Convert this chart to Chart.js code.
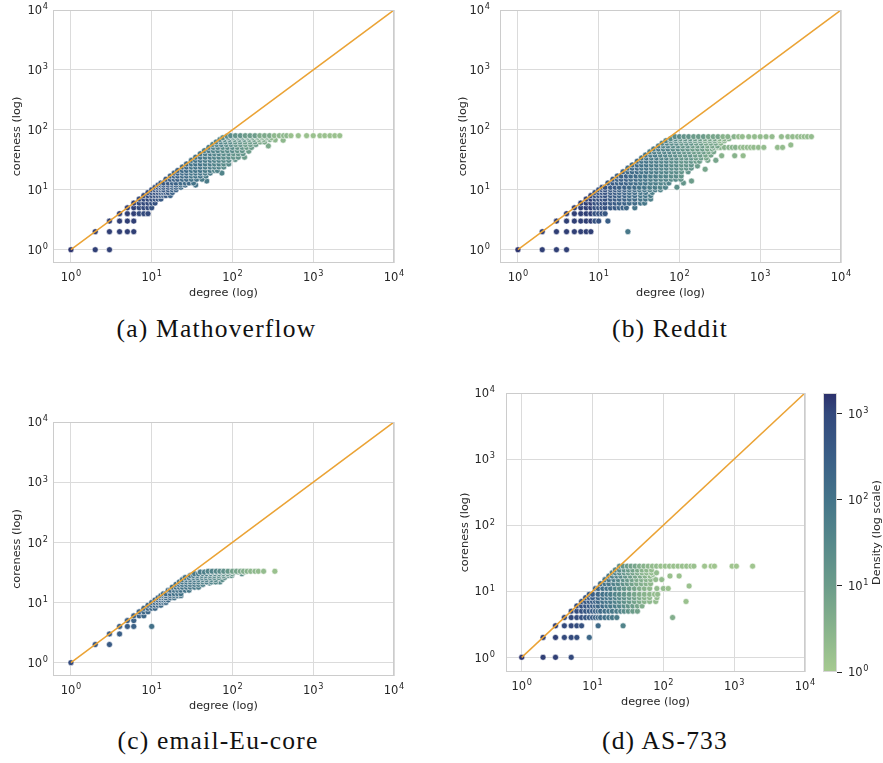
<!DOCTYPE html>
<html><head><meta charset="utf-8">
<script src="https://cdn.jsdelivr.net/npm/chart.js@4.4.1/dist/chart.umd.min.js"></script>
<style>
html,body{margin:0;padding:0;background:#fff;}
body{width:883px;height:763px;position:relative;overflow:hidden;}
canvas{position:absolute;}
.cap{position:absolute;font-family:"Liberation Serif",serif;font-size:25.5px;line-height:25.5px;letter-spacing:1.2px;color:#111;text-align:center;white-space:nowrap;}
</style></head><body>
<canvas id="pa" width="410" height="305" style="left:0;top:0"></canvas>
<canvas id="pb" width="417" height="305" style="left:440px;top:0"></canvas>
<canvas id="pc" width="410" height="306" style="left:0;top:412px"></canvas>
<canvas id="pd" width="381" height="331" style="left:440px;top:383px"></canvas>
<canvas id="cb" width="68" height="300" style="left:815px;top:383px"></canvas>
<div class="cap" id="cap0" style="left:0;width:433px;top:316px"></div>
<div class="cap" id="cap1" style="left:470px;width:400px;top:316px"></div>
<div class="cap" id="cap2" style="left:0;width:436px;top:728px"></div>
<div class="cap" id="cap3" style="left:465px;width:400px;top:728px"></div>
<script>
// ---- data: [degree, coreness, log10(density)] ----
const mathoverflowPts = [
[1,1,3.2],[2,1,3.1],[3,1,3.1],
[2,2,3.1],[3,2,3.1],[4,2,3.1],[5,2,3.1],[6,2,3.1],
[3,3,3.1],[4,3,3.1],[5,3,3.1],[6,3,3.1],
[4,4,3.1],[5,4,3.1],[6,4,3.1],[7,4,3.0],[8,4,3.0],[9,4,3.0],
[5,5,3.1],[6,5,3.1],[7,5,3.0],[8,5,3.0],[9,5,3.0],[10,5,2.8],
[6,6,3.1],[7,6,3.0],[8,6,3.0],[9,6,3.0],[10,6,2.8],[11,6,2.8],
[7,7,3.0],[8,7,3.0],[9,7,3.0],[10,7,2.8],[11,7,2.8],[12,7,2.8],[13,7,2.6],
[8,8,3.0],[9,8,3.0],[10,8,2.8],[11,8,2.8],[12,8,2.8],[13,8,2.6],[14,8,2.6],[15,8,2.6],[17,8,2.4],
[9,9,3.0],[10,9,2.8],[11,9,2.8],[12,9,2.8],[13,9,2.6],[14,9,2.6],[15,9,2.6],[16,9,2.6],[18,9,2.4],
[10,10,2.8],[11,10,2.8],[12,10,2.8],[13,10,2.6],[14,10,2.6],[16,10,2.6],[18,10,2.4],[20,10,2.4],
[11,11,2.8],[12,11,2.8],[13,11,2.6],[14,11,2.6],[16,11,2.6],[18,11,2.4],[20,11,2.4],[23,11,2.2],
[12,12,2.8],[13,12,2.6],[14,12,2.6],[16,12,2.6],[18,12,2.4],[20,12,2.4],[23,12,2.2],[26,12,2.2],[35,12,2.0],
[13,13,2.6],[14,13,2.6],[16,13,2.6],[18,13,2.4],[20,13,2.4],[23,13,2.2],[26,13,2.2],[29,13,2.2],[33,13,2.0],[48,14,1.8],
[15,15,2.6],[17,15,2.4],[19,15,2.4],[21,15,2.4],[24,15,2.2],[27,15,2.2],[31,15,2.0],[36,15,2.0],[42,15,1.8],
[17,17,2.4],[19,17,2.4],[21,17,2.4],[24,17,2.2],[27,17,2.2],[31,17,2.0],[35,17,2.0],[40,17,2.0],[47,17,1.8],
[19,19,2.4],[21,19,2.4],[24,19,2.2],[27,19,2.2],[31,19,2.0],[35,19,2.0],[40,19,2.0],[46,19,1.8],[53,19,1.8],[74,19,1.6],
[21,21,2.4],[24,21,2.2],[27,21,2.2],[31,21,2.0],[35,21,2.0],[40,21,2.0],[46,21,1.8],[53,21,1.8],[60,21,1.6],[65,21,1.6],
[24,24,2.2],[27,24,2.2],[31,24,2.0],[35,24,2.0],[40,24,2.0],[46,24,1.8],[53,24,1.8],[60,24,1.6],[68,24,1.6],[78,24,1.4],
[27,27,2.2],[31,27,2.0],[35,27,2.0],[40,27,2.0],[46,27,1.8],[53,27,1.8],[60,27,1.6],[68,27,1.6],[78,27,1.4],[90,27,1.4],
[31,31,2.0],[35,31,2.0],[40,31,2.0],[46,31,1.8],[53,31,1.8],[60,31,1.6],[68,31,1.6],[78,31,1.4],[90,31,1.4],[108,32,1.2],
[35,35,2.0],[40,35,2.0],[46,35,1.8],[53,35,1.8],[60,35,1.6],[68,35,1.6],[78,35,1.4],[90,35,1.4],[103,35,1.2],[118,35,1.2],[141,35,1.0],
[40,40,2.0],[46,40,1.8],[53,40,1.8],[60,40,1.6],[68,40,1.6],[78,40,1.4],[90,40,1.4],[103,40,1.2],[118,40,1.2],[135,40,1.2],
[45,45,1.8],[51,45,1.8],[58,45,1.6],[66,45,1.6],[76,45,1.4],[87,45,1.4],[100,45,1.4],[115,45,1.2],[132,45,1.2],[159,44,1.0],
[51,51,1.8],[58,51,1.6],[66,51,1.6],[76,51,1.4],[87,51,1.4],[100,51,1.4],[115,51,1.2],[132,51,1.2],[150,51,1.0],[172,51,1.0],
[57,57,1.6],[64,57,1.6],[73,57,1.6],[84,57,1.4],[96,57,1.4],[110,57,1.2],[126,57,1.2],[145,57,1.0],[167,57,1.0],[195,57,1.0],[278,54,0.7],
[63,63,1.6],[72,63,1.6],[82,63,1.4],[94,63,1.4],[108,63,1.2],[124,63,1.2],[143,63,1.0],[165,63,1.0],[190,63,1.0],[220,63,0.7],[250,63,0.7],
[70,69,1.6],[80,69,1.4],[92,69,1.4],[106,69,1.2],[122,69,1.2],[140,69,1.2],[161,69,1.0],[185,69,1.0],[213,69,0.7],[245,69,0.7],[290,69,0.7],[338,68,0.4],[424,67,0.4],
[76,74,1.4],[88,74,1.4],[101,74,1.2],[116,74,1.2],[133,74,1.2],[153,74,1.0],[176,74,1.0],[202,74,0.7],[232,74,0.7],[266,74,0.7],[305,74,0.4],
[86,78,1.4],[99,78,1.4],[114,78,1.2],[131,78,1.2],[150,78,1.0],[172,78,1.0],[198,78,1.0],[228,78,0.7],[262,78,0.7],
[95,80,1.4],[109,80,1.2],[125,80,1.2],[144,80,1.0],[165,80,1.0],[190,80,1.0],[218,80,0.7],[250,80,0.7],[288,80,0.7],[330,80,0.4],[380,80,0.4],[430,80,0.4],[470,80,0.4],[530,80,0.2],[653,80,0.2],[828,80,0.2],[1000,80,0.2],[1210,80,0.2],[1390,80,0.2],[1610,80,0.2],[1850,80,0.2],[2130,80,0.2]
];
const redditPts = [
[1,1,3.2],[2,1,3.1],[3,1,3.1],[4,1,3.1],
[2,2,3.1],[3,2,3.1],[4,2,3.1],[5,2,3.1],[6,2,3.1],[7,2,3.1],[8,2,3.1],[23,2,1.9],
[3,3,3.1],[4,3,3.1],[5,3,3.1],[6,3,3.1],[7,3,3.1],[8,3,3.1],[9,3,2.8],[10,3,2.8],[13,3,2.5],
[4,4,3.1],[5,4,3.1],[6,4,3.1],[7,4,3.1],[8,4,3.1],[9,4,2.8],[10,4,2.8],[11,4,2.8],[12,4,2.7],
[5,5,3.1],[6,5,3.1],[7,5,3.1],[8,5,3.1],[9,5,2.8],[10,5,2.8],[11,5,2.8],[12,5,2.8],[14,5,2.6],[16,5,2.6],[18,5,2.4],[20,5,2.4],[22,5,2.3],[28,5,2.0],
[6,6,3.1],[7,6,3.1],[8,6,3.1],[9,6,2.8],[10,6,2.8],[11,6,2.8],[12,6,2.8],[14,6,2.6],[16,6,2.6],[18,6,2.4],[21,6,2.4],[24,6,2.2],[28,6,2.2],[33,6,2.0],[37,6,1.9],
[7,7,3.1],[8,7,3.1],[9,7,2.8],[10,7,2.8],[11,7,2.8],[12,7,2.8],[14,7,2.6],[16,7,2.6],[18,7,2.4],[21,7,2.4],[24,7,2.2],[28,7,2.2],[33,7,2.0],[38,7,2.0],[44,7,1.7],
[8,8,3.1],[9,8,2.8],[10,8,2.8],[11,8,2.8],[12,8,2.8],[14,8,2.6],[16,8,2.6],[18,8,2.4],[21,8,2.4],[24,8,2.2],[28,8,2.2],[33,8,2.0],[38,8,2.0],[44,8,1.8],
[9,9,2.8],[10,9,2.8],[11,9,2.8],[12,9,2.8],[14,9,2.6],[16,9,2.6],[18,9,2.4],[21,9,2.4],[24,9,2.2],[28,9,2.2],[33,9,2.0],[38,9,2.0],[46,9,1.7],
[10,10,2.8],[11,10,2.8],[12,10,2.8],[14,10,2.6],[16,10,2.6],[18,10,2.4],[21,10,2.4],[24,10,2.2],[28,10,2.2],[32,10,2.0],[37,10,2.0],[43,10,1.8],[50,10,1.8],[58,10,1.6],
[11,11,2.8],[12,11,2.8],[14,11,2.6],[16,11,2.6],[18,11,2.4],[21,11,2.4],[24,11,2.2],[28,11,2.2],[32,11,2.0],[37,11,2.0],[43,11,1.8],[50,11,1.8],[58,11,1.6],[67,11,1.6],[93,11,1.3],
[13,13,2.6],[15,13,2.6],[17,13,2.4],[19,13,2.4],[22,13,2.4],[25,13,2.2],[29,13,2.2],[33,13,2.0],[38,13,2.0],[44,13,1.8],[51,13,1.8],[59,13,1.6],[68,13,1.6],[74,13,1.6],[112,13,1.2],
[15,15,2.6],[17,15,2.4],[19,15,2.4],[22,15,2.4],[25,15,2.2],[29,15,2.2],[33,15,2.0],[38,15,2.0],[44,15,1.8],[51,15,1.8],[59,15,1.6],[68,15,1.6],[79,15,1.4],[90,15,1.4],[104,15,1.2],[141,14,1.0],
[17,17,2.4],[19,17,2.4],[22,17,2.4],[25,17,2.2],[29,17,2.2],[33,17,2.0],[38,17,2.0],[44,17,1.8],[51,17,1.8],[59,17,1.6],[68,17,1.6],[79,17,1.4],[91,17,1.4],[105,17,1.2],
[20,20,2.4],[23,20,2.2],[26,20,2.2],[30,20,2.2],[34,20,2.0],[39,20,2.0],[45,20,1.8],[52,20,1.8],[60,20,1.6],[69,20,1.6],[80,20,1.4],[92,20,1.4],[106,20,1.2],[128,20,1.2],
[23,23,2.2],[26,23,2.2],[30,23,2.2],[34,23,2.0],[39,23,2.0],[45,23,1.8],[52,23,1.8],[60,23,1.6],[69,23,1.6],[80,23,1.4],[92,23,1.4],[106,23,1.2],[122,23,1.2],[140,23,1.2],[208,22,0.8],
[26,26,2.2],[30,26,2.2],[34,26,2.0],[39,26,2.0],[45,26,1.8],[52,26,1.8],[60,26,1.6],[69,26,1.6],[80,26,1.4],[92,26,1.4],[106,26,1.2],[122,26,1.2],[140,26,1.2],[167,25,1.0],
[30,30,2.2],[34,30,2.0],[39,30,2.0],[45,30,1.8],[52,30,1.8],[60,30,1.6],[69,30,1.6],[80,30,1.4],[92,30,1.4],[106,30,1.2],[122,30,1.2],[140,30,1.2],[160,30,1.0],[177,30,1.0],[224,31,0.8],[282,31,0.8],
[34,34,2.0],[39,34,2.0],[45,34,1.8],[52,34,1.8],[60,34,1.6],[69,34,1.6],[80,34,1.4],[92,34,1.4],[106,34,1.2],[122,34,1.2],[140,34,1.2],[160,34,1.0],[185,34,1.0],[215,34,0.8],
[38,38,2.0],[44,38,1.8],[50,38,1.8],[58,38,1.6],[67,38,1.6],[77,38,1.4],[89,38,1.4],[102,38,1.2],[118,38,1.2],[136,38,1.2],[157,38,1.0],[181,38,1.0],[210,38,0.8],[245,38,0.8],[333,37,0.5],[483,37,0.5],[614,37,0.3],
[43,43,1.8],[49,43,1.8],[56,43,1.6],[65,43,1.6],[75,43,1.6],[86,43,1.4],[99,43,1.4],[114,43,1.2],[131,43,1.2],[151,43,1.0],[174,43,1.0],[200,43,1.0],[230,43,0.8],[265,43,0.8],
[48,48,1.8],[55,48,1.8],[63,48,1.6],[72,48,1.6],[83,48,1.4],[96,48,1.4],[110,48,1.2],[127,48,1.2],[146,48,1.0],[168,48,1.0],[193,48,1.0],[222,48,0.8],[255,48,0.8],
[267,51,0.8],[300,51,0.5],[322,51,0.5],[360,51,0.5],[409,51,0.5],[450,51,0.5],[494,51,0.5],[569,51,0.3],[620,51,0.3],[689,51,0.3],[760,51,0.3],[831,51,0.3],[950,51,0.3],[1108,51,0.3],[1637,51,0.3],[1890,51,0.3],[2390,56,0.3],
[55,54,1.8],[63,54,1.6],[72,54,1.6],[83,54,1.4],[96,54,1.4],[110,54,1.2],[127,54,1.2],[146,54,1.0],[168,54,1.0],[193,54,1.0],[222,54,0.8],[255,54,0.8],[295,54,0.8],
[61,60,1.6],[70,60,1.6],[80,60,1.4],[92,60,1.4],[106,60,1.2],[122,60,1.2],[140,60,1.2],[161,60,1.0],[185,60,1.0],[213,60,0.8],[245,60,0.8],[282,60,0.8],[325,60,0.5],
[68,66,1.6],[78,66,1.4],[90,66,1.4],[103,66,1.2],[118,66,1.2],[136,66,1.2],[156,66,1.0],[180,66,1.0],[207,66,0.8],[238,66,0.8],[274,66,0.8],[315,66,0.5],[360,66,0.5],
[78,71,1.4],[90,71,1.4],[103,71,1.2],[118,71,1.2],[136,71,1.2],[156,71,1.0],[180,71,1.0],[207,71,0.8],[238,71,0.8],[274,71,0.8],[315,71,0.5],[360,71,0.5],[410,71,0.5],
[88,77,1.4],[100,77,1.4],[114,77,1.2],[130,77,1.2],[150,77,1.0],[172,77,1.0],[198,77,1.0],[228,77,0.8],[262,77,0.8],[300,77,0.8],[345,77,0.5],[397,77,0.5],[474,77,0.5],[540,77,0.3],[600,77,0.3],[720,77,0.3],[850,77,0.3],[1000,77,0.3],[1180,77,0.3],[1400,77,0.3],[1830,77,0.3],[2200,77,0.3],[2520,77,0.3],[2900,77,0.3],[3200,77,0.3],[3500,77,0.3],[3850,77,0.3],[4300,77,0.3]
];
const emailPts = [
[1,1,3.0],
[2,2,2.7],[3,2,2.6],
[3,3,2.6],[4,3,2.5],
[4,4,2.5],[5,4,2.5],[6,4,2.4],[10,4,2.1],
[5,5,2.5],[6,5,2.4],
[6,6,2.4],[7,6,2.4],[8,6,2.3],
[7,7,2.4],[8,7,2.3],[9,7,2.3],
[8,8,2.3],[9,8,2.3],[10,8,2.3],[11,8,2.3],
[9,9,2.3],[10,9,2.3],[11,9,2.3],[12,9,2.3],[13,9,2.2],
[10,10,2.3],[11,10,2.3],[12,10,2.3],[13,10,2.3],[14,10,2.2],[15,10,2.2],
[11,11,2.3],[12,11,2.3],[13,11,2.3],[14,11,2.2],[15,11,2.2],[16,11,2.2],
[12,12,2.3],[13,12,2.3],[14,12,2.2],[15,12,2.2],[17,12,2.2],[19,12,2.1],
[13,13,2.2],[14,13,2.2],[15,13,2.2],[17,13,2.2],[19,13,2.1],[21,13,2.1],[23,13,2.0],
[14,14,2.2],[15,14,2.2],[17,14,2.2],[19,14,2.1],[21,14,2.1],[23,14,2.0],
[16,16,2.2],[17,16,2.2],[19,16,2.1],[21,16,2.1],[23,16,2.1],[26,16,2.0],[29,16,1.9],
[18,18,2.1],[20,18,2.1],[22,18,2.1],[24,18,2.0],[27,18,2.0],[30,18,1.9],[34,18,1.9],[38,18,1.8],
[20,20,2.1],[22,20,2.1],[24,20,2.0],[27,20,2.0],[30,20,1.9],[34,20,1.9],[38,20,1.8],[43,20,1.7],
[52,21,1.6],[70,22,1.5],
[22,22,2.1],[24,22,2.0],[27,22,2.0],[30,22,1.9],[34,22,1.9],[38,22,1.8],[43,22,1.7],[48,22,1.7],[55,22,1.6],[62,22,1.5],
[24,24,2.0],[27,24,2.0],[30,24,1.9],[34,24,1.9],[38,24,1.8],[43,24,1.7],[48,24,1.7],[55,24,1.6],[62,24,1.5],[75,24,1.4],
[26,26,2.0],[29,26,1.9],[33,26,1.9],[37,26,1.8],[42,26,1.7],[47,26,1.7],[53,26,1.6],[60,26,1.5],[68,26,1.4],[80,26,1.3],
[30,28,1.9],[33,28,1.9],[37,28,1.8],[42,28,1.7],[47,28,1.7],[53,28,1.6],[60,28,1.5],[68,28,1.4],[78,28,1.3],[90,28,1.3],[98,28,1.2],
[34,30,1.9],[38,30,1.8],[43,30,1.7],[48,30,1.7],[54,30,1.6],[61,30,1.5],[69,30,1.4],[78,30,1.3],[88,30,1.2],[100,30,1.1],[131,30,1.3],
[40,32,1.8],[45,32,1.7],[51,32,1.6],[57,32,1.6],[64,32,1.5],[72,32,1.4],[81,32,1.3],[92,32,1.1],[104,32,1.0],[117,32,0.9],[140,32,0.7],
[50,33,1.6],[56,33,1.6],[63,33,1.5],[70,33,1.4],[78,33,1.3],[88,33,1.1],[100,33,0.9],[112,33,0.8],[125,33,0.7],[137,33,0.6],[152,33,0.5],[168,33,0.4],[190,33,0.4],[209,33,0.3],[243,33,0.3],[335,33,0.2]
];
const as733Pts = [
[1,1,3.2],[2,1,3.1],[3,1,3.1],[5,1,3.0],
[2,2,3.1],[3,2,3.1],[4,2,3.0],[5,2,3.0],[6,2,2.9],[9,2,2.3],
[3,3,3.1],[4,3,3.0],[5,3,3.0],[6,3,2.9],[7,3,2.8],[12,3,2.2],[27,3,1.6],
[4,4,3.0],[5,4,3.0],[6,4,2.9],[7,4,2.8],[8,4,2.7],[9,4,2.6],[10,4,2.5],[11,4,2.4],[12,4,2.3],[13,4,2.2],[15,4,2.1],[17,4,2.0],[19,4,1.9],[22,4,1.8],[135,4,0.6],
[5,5,3.0],[6,5,2.9],[7,5,2.8],[8,5,2.7],[9,5,2.6],[10,5,2.5],[11,5,2.4],[12,5,2.3],[13,5,2.2],[15,5,2.1],[17,5,2.0],[19,5,1.9],[22,5,1.8],[25,5,1.6],[28,5,1.4],[32,5,1.2],[37,5,1.0],[43,5,0.9],
[6,6,2.9],[7,6,2.8],[8,6,2.7],[9,6,2.6],[10,6,2.5],[11,6,2.4],[12,6,2.3],[14,6,2.2],[16,6,2.0],[18,6,1.9],[21,6,1.8],[24,6,1.6],[28,6,1.4],[32,6,1.2],[37,6,1.0],[43,6,0.8],[50,6,0.6],
[7,7,2.8],[8,7,2.7],[9,7,2.6],[10,7,2.5],[11,7,2.4],[12,7,2.3],[14,7,2.1],[16,7,2.0],[18,7,1.9],[21,7,1.7],[24,7,1.5],[28,7,1.3],[33,7,1.1],[39,7,0.9],[46,7,0.7],[54,7,0.5],[64,7,0.4],[78,7,0.3],[209,7,0.2],
[8,8,2.7],[9,8,2.6],[10,8,2.5],[12,8,2.3],[14,8,2.1],[16,8,2.0],[18,8,1.9],[21,8,1.7],[24,8,1.5],[28,8,1.3],[33,8,1.1],[39,8,0.9],[46,8,0.7],[54,8,0.5],[64,8,0.4],[81,8,0.3],
[9,9,2.6],[10,9,2.5],[12,9,2.3],[14,9,2.1],[16,9,2.0],[18,9,1.8],[21,9,1.6],[24,9,1.4],[28,9,1.2],[33,9,1.0],[39,9,0.8],[46,9,0.6],[54,9,0.5],[64,9,0.4],[75,9,0.3],[83,9,0.3],
[11,11,2.4],[12,11,2.3],[14,11,2.1],[16,11,2.0],[18,11,1.8],[21,11,1.6],[24,11,1.4],[28,11,1.2],[33,11,1.0],[39,11,0.8],[46,11,0.6],[54,11,0.5],[64,11,0.4],[81,11,0.3],[100,11,0.3],[117,11,0.2],
[231,12,0.2],
[13,13,2.2],[15,13,2.0],[17,13,1.9],[20,13,1.7],[23,13,1.5],[27,13,1.3],[31,13,1.1],[36,13,0.9],[42,13,0.7],[49,13,0.6],[57,13,0.5],[66,13,0.4],
[15,15,2.0],[17,15,1.9],[20,15,1.7],[23,15,1.5],[27,15,1.3],[31,15,1.1],[36,15,0.9],[42,15,0.7],[49,15,0.6],[57,15,0.5],[66,15,0.4],[78,15,0.3],[95,15,0.3],
[17,17,1.9],[19,17,1.7],[22,17,1.6],[25,17,1.4],[29,17,1.2],[34,17,1.0],[40,17,0.8],[47,17,0.7],[55,17,0.5],[65,17,0.4],[71,18,0.4],[124,17,0.2],[167,17,0.2],
[19,19,1.7],[21,19,1.6],[24,19,1.4],[28,19,1.2],[32,19,1.0],[37,19,0.9],[43,19,0.7],[50,19,0.5],[58,19,0.4],[68,19,0.3],[80,19,0.3],
[21,21,1.6],[24,21,1.4],[28,21,1.2],[32,21,1.0],[37,21,0.9],[43,21,0.7],[50,21,0.5],[58,21,0.4],[68,21,0.3],
[24,24,1.3],[27,24,1.2],[31,24,1.0],[35,24,0.9],[40,24,0.8],[46,24,0.6],[53,24,0.5],[61,24,0.4],[70,24,0.3],[80,24,0.3],[92,24,0.2],[106,24,0.2],[122,24,0.2],[140,24,0.2],[161,24,0.2],[185,24,0.2],[213,24,0.2],[245,24,0.2],[270,24,0.2],[382,24,0.1],[474,24,0.1],[526,24,0.1],[935,24,0.1],[1075,24,0.1],[1820,24,0.1]
];
const diagonal = [1, 10000];
const tickValues = [1, 10, 100, 1000, 10000];
const tickExponents = ['0', '1', '2', '3', '4'];
const cbTickValues = [1, 10, 100, 1000];
const cbTickExponents = ['0', '1', '2', '3'];
const axisMin = 0.631, axisMax = 10000, densityMax = 1738;
const captions = ['(a) Mathoverflow', '(b) Reddit', '(c) email-Eu-core', '(d) AS-733'];
const xTitle = 'degree (log)', yTitle = 'coreness (log)', cbTitle = 'Density (log scale)';

// ---- style ----
const crestStops = [[0,166,202,144],[0.5,136,179,140],[1,108,156,138],[1.5,86,136,138],[2,68,116,137],[2.5,58,94,134],[3,51,73,124],[3.24,44,48,108]];
function crest(k) {
  k = Math.max(0, Math.min(3.24, k));
  for (let i = 1; i < crestStops.length; i++) {
    const a = crestStops[i-1], b = crestStops[i];
    if (k <= b[0]) {
      const t = (k - a[0]) / (b[0] - a[0]);
      const c = [1,2,3].map(j => Math.round(a[j] + (b[j]-a[j]) * t));
      return `rgb(${c[0]},${c[1]},${c[2]})`;
    }
  }
  const l = crestStops[crestStops.length-1];
  return `rgb(${l[1]},${l[2]},${l[3]})`;
}
const FONT = 'DejaVu Sans';
const TXT = '#262626';
const BASE = 11.5, SUP = 8.2, RAISE = 4.8;

// draws "10" with a raised exponent; y is the baseline of "10"
function drawPow(ctx, x, y, exp, align) {
  ctx.font = `${BASE}px "${FONT}"`;
  const w1 = ctx.measureText('10').width;
  ctx.font = `${SUP}px "${FONT}"`;
  const w2 = ctx.measureText(exp).width;
  const total = w1 + 0.6 + w2;
  const x0 = align === 'center' ? x - total / 2 : align === 'right' ? x - total : x;
  ctx.textAlign = 'left'; ctx.textBaseline = 'alphabetic'; ctx.fillStyle = TXT;
  ctx.font = `${BASE}px "${FONT}"`;
  ctx.fillText('10', x0, y);
  ctx.font = `${SUP}px "${FONT}"`;
  ctx.fillText(exp, x0 + w1 + 0.6, y - RAISE);
}

const framePlugin = {
  id: 'frame',
  afterDatasetsDraw(chart) {
    const {ctx, chartArea: a} = chart;
    ctx.save();
    ctx.strokeStyle = '#cccccc'; ctx.lineWidth = 1;
    ctx.strokeRect(Math.round(a.left)+0.5, Math.round(a.top)+0.5, Math.round(a.right-a.left)-1, Math.round(a.bottom-a.top)-1);
    ctx.restore();
  },
  afterDraw(chart, args, opts) {
    const {ctx, chartArea: a, scales: {x, y}} = chart;
    ctx.save();
    tickValues.forEach((v, i) => {
      drawPow(ctx, x.getPixelForValue(v), a.bottom + 17.8, tickExponents[i], 'center');
      drawPow(ctx, a.left - opts.tp, y.getPixelForValue(v) + 4.2, tickExponents[i], 'right');
    });
    ctx.restore();
  }
};

function makePanel(id, pts, g) {
  return new Chart(document.getElementById(id), {
    type: 'scatter',
    data: { datasets: [
      { type: 'line', data: diagonal.map(v => ({x: v, y: v})), borderColor: '#eba335', borderWidth: 1.5, pointRadius: 0, fill: false, order: 0 },
      { type: 'scatter', data: pts.map(p => ({x: p[0], y: p[1]})), pointRadius: 3, pointBorderWidth: 0.6, pointBorderColor: '#ffffff', pointBackgroundColor: pts.map(p => crest(p[2])), order: 1 }
    ]},
    options: {
      responsive: false, animation: false, events: [],
      layout: { padding: { left: 0, top: 10, right: 16, bottom: 0 } },
      plugins: { legend: { display: false }, tooltip: { enabled: false }, frame: { tp: g.tp } },
      scales: {
        x: {
          type: 'logarithmic', min: axisMin, max: axisMax,
          afterBuildTicks: s => { s.ticks = tickValues.map(v => ({value: v})); },
          afterFit: s => { s.height = 42; },
          grid: { color: '#dbdbdb', lineWidth: 1, drawTicks: false },
          border: { display: false },
          ticks: { display: false },
          title: { display: true, text: xTitle, color: TXT, font: { family: FONT, size: 11.25 }, padding: { top: 0, bottom: 5 } }
        },
        y: {
          type: 'logarithmic', min: axisMin, max: axisMax,
          afterBuildTicks: s => { s.ticks = tickValues.map(v => ({value: v})); },
          afterFit: s => { s.width = g.yw; },
          grid: { color: '#dbdbdb', lineWidth: 1, drawTicks: false },
          border: { display: false },
          ticks: { display: false },
          title: { display: true, text: yTitle, color: TXT, font: { family: FONT, size: 11.25 }, padding: { top: g.tt, bottom: 0 } }
        }
      }
    },
    plugins: [framePlugin]
  });
}
makePanel('pa', mathoverflowPts, { yw: 53, tp: 5, tt: 10 });
makePanel('pb', redditPts, { yw: 60, tp: 10, tt: 16.7 });
makePanel('pc', emailPts, { yw: 53, tp: 5, tt: 10 });
makePanel('pd', as733Pts, { yw: 66, tp: 11, tt: 18.4 });

const colorbarPlugin = {
  id: 'cbfill',
  afterDraw(chart) {
    const {ctx, chartArea: a, scales: {y}} = chart;
    const g = ctx.createLinearGradient(0, a.bottom, 0, a.top);
    crestStops.forEach(s => {
      const py = y.getPixelForValue(Math.pow(10, s[0]));
      const f = Math.max(0, Math.min(1, (a.bottom - py) / (a.bottom - a.top)));
      g.addColorStop(f, `rgb(${s[1]},${s[2]},${s[3]})`);
    });
    ctx.save();
    ctx.fillStyle = g;
    ctx.fillRect(a.left, a.top, a.right - a.left, a.bottom - a.top);
    ctx.strokeStyle = '#d6d6d6'; ctx.lineWidth = 1;
    ctx.strokeRect(a.left + 0.5, a.top + 0.5, a.right - a.left - 1, a.bottom - a.top - 1);
    cbTickValues.forEach((v, i) => {
      drawPow(ctx, a.right + 11, y.getPixelForValue(v) + 4.2, cbTickExponents[i], 'left');
    });
    ctx.translate(61.7, (a.top + a.bottom) / 2);
    ctx.rotate(-Math.PI / 2);
    ctx.fillStyle = TXT; ctx.font = `11.25px "${FONT}"`;
    ctx.textAlign = 'center'; ctx.textBaseline = 'middle';
    ctx.fillText(cbTitle, 0, 0);
    ctx.restore();
  }
};
new Chart(document.getElementById('cb'), {
  type: 'scatter',
  data: { datasets: [] },
  options: {
    responsive: false, animation: false, events: [],
    layout: { padding: { left: 8, top: 10, right: 0, bottom: 11 } },
    plugins: { legend: { display: false }, tooltip: { enabled: false } },
    scales: {
      x: { display: false, min: 0, max: 1 },
      y: {
        type: 'logarithmic', position: 'right', min: 1, max: densityMax,
        afterBuildTicks: s => { s.ticks = cbTickValues.map(v => ({value: v})); },
        afterFit: s => { s.width = 46; },
        grid: { drawOnChartArea: false, drawTicks: true, tickLength: 5, tickColor: TXT, tickWidth: 1 },
        border: { display: false },
        ticks: { display: false }
      }
    }
  },
  plugins: [colorbarPlugin]
});
captions.forEach((t, i) => { document.getElementById('cap' + i).textContent = t; });
</script>
</body></html>
